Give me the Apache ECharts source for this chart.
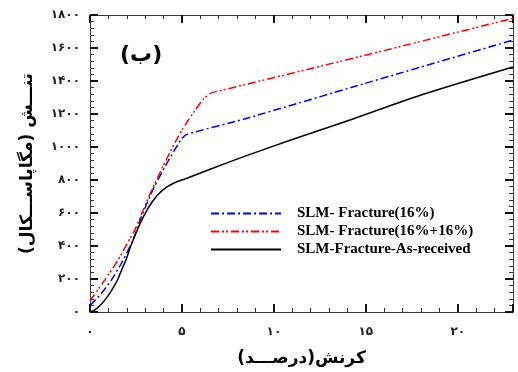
<!DOCTYPE html>
<html>
<head>
<meta charset="utf-8">
<script src="https://cdn.jsdelivr.net/npm/echarts@6/dist/echarts.min.js"></script>
<style>
  html, body { margin: 0; padding: 0; background: #fff; }
  #chart { width: 518px; height: 372px; }
</style>
</head>
<body>
<div id="chart"></div>
<script>
// strain (%) / stress (MPa)
const blueData = [
  [0, 40], [0.62, 113], [1.16, 193], [1.7, 294], [2.25, 415], [2.52, 490],
  [2.8, 580], [3.5, 760], [4.2, 905], [4.98, 1050], [5.3, 1078], [8.4, 1170],
  [14.85, 1382], [23, 1648]
];
const redData = [
  [0, 68], [0.8, 193], [1.52, 314], [2.07, 425], [2.43, 495], [2.9, 620],
  [3.35, 737], [4.2, 935], [4.98, 1100], [5.7, 1220], [6.2, 1295], [6.6, 1328],
  [7.1, 1342], [14.85, 1553], [23, 1780]
];
const blackData = [
  [0, 0], [0.25, 12], [0.6, 45], [0.98, 98], [1.25, 145], [1.52, 200],
  [1.72, 255], [1.97, 320], [2.2, 395], [2.45, 465], [2.7, 530], [2.9, 576],
  [3.1, 618], [3.35, 662], [3.7, 712], [4.15, 755], [4.6, 783], [5.2, 808],
  [6.6, 868], [8.4, 943], [11, 1045], [14.3, 1170], [18, 1315], [23, 1485]
];
const seriesNames = [
  "SLM- Fracture(16%)",
  "SLM- Fracture(16%+16%)",
  "SLM-Fracture-As-received"
];
const faDigits = "۰۱۲۳۴۵۶۷۸۹";
const toFa = (v) => String(v).replace(/\d/g, (d) => faDigits[d]);

const chart = echarts.init(document.getElementById("chart"));
const frame = "#3a3a3a";
const tickLabel = {
  color: "#222",
  fontFamily: "DejaVu Sans",
  fontWeight: "bold",
  fontSize: 12,
  formatter: (v) => toFa(v),
};
const axisBase = {
  type: "value",
  axisLine: { show: true, onZero: false, lineStyle: { color: frame, width: 1 } },
  axisTick: { show: true, inside: true, length: 8, lineStyle: { color: "#111", width: 2 } },
  minorTick: { show: true, splitNumber: 5, length: 4, lineStyle: { color: "#333", width: 1 } },
  splitLine: { show: false },
  minorSplitLine: { show: false },
};
const xBase = Object.assign({}, axisBase, { min: 0, max: 23, interval: 5 });
const yBase = Object.assign({}, axisBase, { min: 0, max: 1800, interval: 200 });

const option = {
  animation: false,
  grid: { left: 90, right: 5, top: 15, bottom: 60, containLabel: false },
  xAxis: [
    Object.assign({}, xBase, {
      position: "bottom",
      axisLabel: Object.assign({}, tickLabel, { margin: 14, showMaxLabel: false }),
      name: "کرنش(درصـــد)",
      nameLocation: "middle",
      nameGap: 38,
      nameTextStyle: { color: "#000", fontFamily: "DejaVu Sans", fontWeight: "bold", fontSize: 17 },
    }),
    Object.assign({}, xBase, { position: "top", axisLabel: { show: false } }),
  ],
  yAxis: [
    Object.assign({}, yBase, {
      position: "left",
      axisLabel: Object.assign({}, tickLabel, { margin: 10 }),
      name: "تنـــش (مگاپاســـکال)",
      nameLocation: "middle",
      nameRotate: 90,
      nameGap: 54,
      nameTextStyle: { color: "#000", fontFamily: "DejaVu Sans", fontWeight: "bold", fontSize: 17 },
    }),
    Object.assign({}, yBase, { position: "right", axisLabel: { show: false } }),
  ],
  legend: {
    orient: "vertical",
    left: 205,
    top: 201,
    itemWidth: 70,
    itemHeight: 8,
    itemGap: 3,
    data: seriesNames,
    itemStyle: { opacity: 0 },
    textStyle: {
      color: "#000",
      fontFamily: "Liberation Serif",
      fontWeight: "bold",
      fontSize: 15,
      padding: [0, 0, 0, 11],
    },
  },
  graphic: [
    {
      type: "text",
      left: 120,
      top: 44,
      style: { text: "(ب)", fill: "#000", font: "bold 22px 'DejaVu Sans'" },
    },
  ],
  series: [
    {
      name: seriesNames[0],
      type: "line",
      data: blueData,
      symbol: "none",
      smooth: 0.2,
      lineStyle: { color: "#0000ff", width: 1.5, type: [8, 3, 2, 3] },
      itemStyle: { color: "#0000ff" },
    },
    {
      name: seriesNames[1],
      type: "line",
      data: redData,
      symbol: "none",
      smooth: 0.2,
      lineStyle: { color: "#ff0000", width: 1.5, type: [8, 3, 2, 2, 2, 3] },
      itemStyle: { color: "#ff0000" },
    },
    {
      name: seriesNames[2],
      type: "line",
      data: blackData,
      symbol: "none",
      smooth: 0.3,
      lineStyle: { color: "#000", width: 1.5, type: "solid" },
      itemStyle: { color: "#000" },
    },
  ],
};
chart.setOption(option);
</script>
</body>
</html>
